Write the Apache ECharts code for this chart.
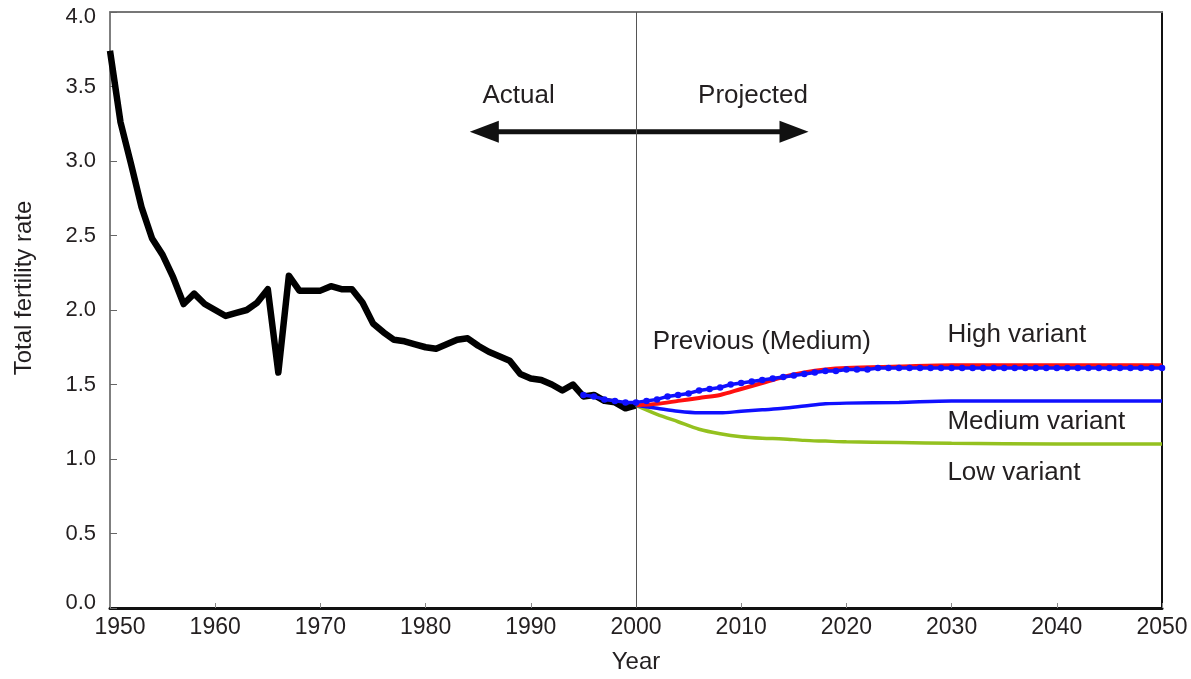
<!DOCTYPE html>
<html>
<head>
<meta charset="utf-8">
<title>Total fertility rate</title>
<script src="https://cdn.jsdelivr.net/npm/echarts@6/dist/echarts.min.js"></script>
<style>
  html, body { margin: 0; padding: 0; background: #fff; }
  #chart { width: 1191px; height: 679px; }
</style>
</head>
<body>
<div id="chart"></div>
<script>
  // actual TFR, one value per year from 1950 to 2000
  const actualStart = 1950;
  const actualTfr = [3.74, 3.26, 2.98, 2.69, 2.48, 2.37, 2.22, 2.04, 2.11, 2.04,
    2.00, 1.96, 1.98, 2.00, 2.05, 2.14, 1.58, 2.23, 2.13, 2.13,
    2.13, 2.16, 2.14, 2.14, 2.05, 1.91, 1.85, 1.80, 1.79, 1.77,
    1.75, 1.74, 1.77, 1.80, 1.81, 1.76, 1.72, 1.69, 1.66, 1.57,
    1.54, 1.53, 1.50, 1.46, 1.50, 1.42, 1.43, 1.39, 1.38, 1.34, 1.36];

  // previous projection (medium), one value per year from 1995 to 2050
  const prevStart = 1995;
  const prevMedium = [1.43, 1.42, 1.40, 1.39, 1.38,
    1.38, 1.39, 1.40, 1.42, 1.43, 1.44, 1.46, 1.47, 1.48, 1.50,
    1.51, 1.52, 1.53, 1.54, 1.55, 1.56, 1.57, 1.58, 1.59, 1.59,
    1.60, 1.60, 1.60, 1.61, 1.61, 1.61, 1.61, 1.61, 1.61, 1.61,
    1.61, 1.61, 1.61, 1.61, 1.61, 1.61, 1.61, 1.61, 1.61, 1.61,
    1.61, 1.61, 1.61, 1.61, 1.61, 1.61, 1.61, 1.61, 1.61, 1.61, 1.61];

  // new projections
  const projYears = [2000, 2002, 2004, 2006, 2008, 2010, 2012, 2014, 2016, 2018, 2020, 2025, 2030, 2040, 2050];
  const highVariant = [1.36, 1.37, 1.39, 1.41, 1.43, 1.47, 1.51, 1.55, 1.58, 1.60, 1.61, 1.62, 1.63, 1.63, 1.63];
  const mediumVariant = [1.36, 1.34, 1.32, 1.31, 1.31, 1.32, 1.33, 1.34, 1.355, 1.37, 1.375, 1.38, 1.39, 1.39, 1.39];
  const lowVariant = [1.36, 1.30, 1.25, 1.20, 1.17, 1.15, 1.14, 1.135, 1.125, 1.12, 1.115, 1.11, 1.105, 1.10, 1.10];

  const font = 'Liberation Sans, Arial, sans-serif';
  const textColor = '#231f20';

  function yearly (start, values) {
    return values.map(function (v, i) { return [start + i, v]; });
  }
  function paired (xs, values) {
    return values.map(function (v, i) { return [xs[i], v]; });
  }

  let chart = echarts.init(document.getElementById('chart'));
  chart.setOption({
    animation: false,
    backgroundColor: '#fff',
    grid: { left: 110, right: 29, top: 12, bottom: 67 },
    xAxis: [
      {
        type: 'value',
        min: 1950,
        max: 2050,
        interval: 10,
        name: 'Year',
        nameLocation: 'middle',
        nameGap: 42,
        nameTextStyle: { color: textColor, fontSize: 24, fontFamily: font },
        axisLine: { onZero: false, lineStyle: { color: '#111', width: 3 } },
        axisTick: { inside: true, length: 5, lineStyle: { color: '#888' } },
        axisLabel: {
          margin: 8,
          color: textColor,
          fontSize: 23,
          fontFamily: font,
          formatter: function (v) {
            return v === 1950 ? '{first|1950}' : String(v);
          },
          rich: {
            first: { padding: [0, 0, 0, 20], fontSize: 23, fontFamily: font, color: textColor }
          }
        },
        splitLine: { show: false }
      },
      {
        type: 'value',
        position: 'top',
        min: 1950,
        max: 2050,
        axisLine: { onZero: false, lineStyle: { color: '#777', width: 2 } },
        axisTick: { show: false },
        axisLabel: { show: false },
        splitLine: { show: false }
      }
    ],
    yAxis: [
      {
        type: 'value',
        min: 0,
        max: 4,
        interval: 0.5,
        axisLine: { show: true, onZero: false, lineStyle: { color: '#555', width: 1.5 } },
        axisTick: { show: true, inside: true, length: 7, lineStyle: { color: '#666' } },
        axisLabel: {
          margin: 14,
          color: textColor,
          fontSize: 22,
          fontFamily: font,
          formatter: function (v) {
            if (v === 0) return '{bot|0.0}';
            if (v === 4) return '{top|4.0}';
            return v.toFixed(1);
          },
          rich: {
            bot: { padding: [0, 0, 10, 0], fontSize: 22, fontFamily: font, color: textColor },
            top: { padding: [10, 0, 0, 0], fontSize: 22, fontFamily: font, color: textColor }
          }
        },
        splitLine: { show: false }
      },
      {
        type: 'value',
        position: 'right',
        min: 0,
        max: 4,
        axisLine: { show: true, onZero: false, lineStyle: { color: '#111', width: 2 } },
        axisTick: { show: false },
        axisLabel: { show: false },
        splitLine: { show: false }
      }
    ],
    series: [
      {
        name: 'Actual',
        type: 'line',
        data: yearly(actualStart, actualTfr),
        showSymbol: false,
        lineStyle: { color: '#000', width: 6.5, join: 'round' },
        z: 2,
        markLine: {
          silent: true,
          symbol: 'none',
          label: { show: false },
          lineStyle: { color: '#555', width: 1, type: 'solid' },
          data: [{ xAxis: 2000 }]
        }
      },
      {
        name: 'Low variant',
        type: 'line',
        data: paired(projYears, lowVariant),
        showSymbol: false,
        smooth: 0.3,
        lineStyle: { color: '#94c11f', width: 3.5 },
        z: 3
      },
      {
        name: 'Medium variant',
        type: 'line',
        data: paired(projYears, mediumVariant),
        showSymbol: false,
        smooth: 0.3,
        lineStyle: { color: '#1010ff', width: 3.5 },
        z: 3
      },
      {
        name: 'High variant',
        type: 'line',
        data: paired(projYears, highVariant),
        showSymbol: false,
        smooth: 0.3,
        lineStyle: { color: '#ff1010', width: 4 },
        z: 4
      },
      {
        name: 'Previous (Medium)',
        type: 'line',
        data: yearly(prevStart, prevMedium),
        symbol: 'circle',
        symbolSize: 6.5,
        showAllSymbol: true,
        itemStyle: { color: '#1010ff' },
        lineStyle: { color: '#1010ff', width: 3.5 },
        z: 5
      }
    ]
  });

  // annotations placed in data coordinates
  const notes = [
    { text: 'Actual', at: [1985.4, 3.44] },
    { text: 'Projected', at: [2005.9, 3.44] },
    { text: 'Previous (Medium)', at: [2001.6, 1.787] },
    { text: 'High variant', at: [2029.6, 1.831] },
    { text: 'Medium variant', at: [2029.6, 1.249] },
    { text: 'Low variant', at: [2029.6, 0.904] }
  ];
  const arrowFrom = [1984.2, 3.197];
  const arrowTo = [2016.4, 3.197];

  function toPx (p) {
    return chart.convertToPixel({ xAxisIndex: 0, yAxisIndex: 0 }, p);
  }

  let graphics = notes.map(function (n) {
    let p = toPx(n.at);
    return {
      type: 'text',
      x: p[0],
      y: p[1],
      style: { text: n.text, fill: textColor, fontSize: 26, fontFamily: font, textAlign: 'left', textVerticalAlign: 'middle' }
    };
  });

  let a = toPx(arrowFrom);
  let b = toPx(arrowTo);
  graphics.push({
    type: 'line',
    shape: { x1: a[0] + 20, y1: a[1], x2: b[0] - 20, y2: b[1] },
    style: { stroke: '#111', lineWidth: 5 }
  });
  graphics.push({
    type: 'polygon',
    shape: { points: [[a[0], a[1]], [a[0] + 29, a[1] - 11], [a[0] + 29, a[1] + 11]] },
    style: { fill: '#111' }
  });
  graphics.push({
    type: 'polygon',
    shape: { points: [[b[0], b[1]], [b[0] - 29, b[1] - 11], [b[0] - 29, b[1] + 11]] },
    style: { fill: '#111' }
  });

  // y axis title, a little above the plot's middle as in the original
  graphics.push({
    type: 'text',
    x: 24,
    y: 288,
    rotation: Math.PI / 2,
    style: { text: 'Total fertility rate', fill: textColor, fontSize: 24, fontFamily: font, textAlign: 'center', textVerticalAlign: 'middle' }
  });

  chart.setOption({ graphic: graphics });
</script>
</body>
</html>
